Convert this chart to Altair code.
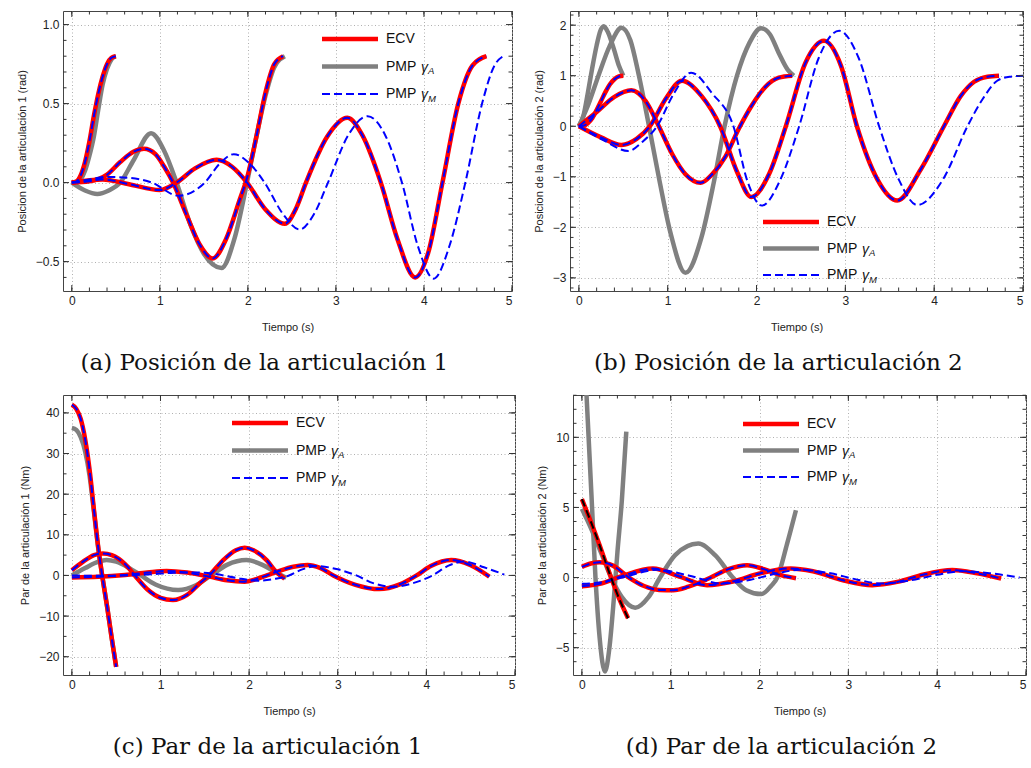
import altair as alt
import pandas as pd

# ---------------- data ----------------
# (a) joint 1 position (rad)
a_t_s = [0, 0.05, 0.1, 0.15, 0.2, 0.25, 0.3, 0.35, 0.4, 0.45, 0.5]
a_ecv_s = [0, 0.006, 0.045, 0.13, 0.26, 0.42, 0.56, 0.67, 0.75, 0.79, 0.80]
a_pa_s = [0, 0.002, 0.02, 0.075, 0.17, 0.29, 0.46, 0.62, 0.72, 0.78, 0.80]
a_t_m = [0, 0.2, 0.4, 0.55, 0.7, 0.82, 0.95, 1.05, 1.15, 1.3, 1.45, 1.6, 1.75, 1.9, 2.0, 2.1, 2.2, 2.3, 2.4]
a_ecv_m = [0, 0.008, 0.05, 0.13, 0.195, 0.214, 0.18, 0.1, 0.0, -0.2, -0.39, -0.48, -0.36, -0.12, 0.05, 0.3, 0.57, 0.75, 0.80]
a_t_pam = [0, 0.15, 0.29, 0.42, 0.55, 0.7, 0.9, 1.05, 1.19, 1.35, 1.5, 1.7, 1.85, 1.99, 2.1, 2.2, 2.3, 2.42]
a_pa_m = [0, -0.05, -0.072, -0.05, 0.0, 0.14, 0.313, 0.2, 0.0, -0.27, -0.45, -0.54, -0.35, 0.0, 0.3, 0.55, 0.73, 0.8]
a_t_l = [0, 0.35, 0.65, 1.0, 1.19, 1.4, 1.645, 1.82, 1.99, 2.2, 2.42, 2.55, 2.66, 2.9, 3.13, 3.3, 3.51, 3.7, 3.9, 4.05, 4.21, 4.39, 4.55, 4.71]
a_ecv_l = [0, 0.02, -0.01, -0.047, 0.0, 0.09, 0.144, 0.1, 0.0, -0.17, -0.26, -0.16, 0.0, 0.29, 0.41, 0.3, 0.0, -0.36, -0.60, -0.44, 0.0, 0.5, 0.74, 0.8]
a_t_pml = [0, 0.2, 0.4, 0.65, 0.91, 1.21, 1.51, 1.68, 1.84, 2.02, 2.19, 2.4, 2.59, 2.75, 2.91, 3.14, 3.36, 3.56, 3.75, 3.93, 4.11, 4.29, 4.47, 4.66, 4.8, 4.9]
a_pm_l = [0, 0.02, 0.036, 0.03, 0.0, -0.083, 0.0, 0.12, 0.18, 0.12, 0.0, -0.2, -0.297, -0.2, 0.0, 0.3, 0.42, 0.3, 0.0, -0.4, -0.608, -0.4, 0.0, 0.5, 0.74, 0.8]

# (b) joint 2 position (rad)
b_t_s = [0, 0.05, 0.1, 0.15, 0.2, 0.25, 0.3, 0.35, 0.4, 0.45, 0.5]
b_ecv_s = [0, 0.01, 0.06, 0.16, 0.32, 0.5, 0.68, 0.83, 0.93, 0.985, 1.0]
b_t_pas = [0, 0.05, 0.1, 0.15, 0.2, 0.24, 0.28, 0.33, 0.39, 0.45, 0.5]
b_pa_s = [0, 0.2, 0.65, 1.15, 1.6, 1.88, 1.98, 1.85, 1.55, 1.2, 1.0]
b_t_pam = [0, 0.1, 0.22, 0.35, 0.48, 0.58, 0.67, 0.79, 0.91, 1.03, 1.2, 1.38, 1.52, 1.64, 1.78, 1.92, 2.05, 2.15, 2.25, 2.35, 2.42]
b_pa_m = [0, 0.4, 1.0, 1.6, 1.95, 1.7, 1.05, 0.0, -1.1, -2.1, -2.9, -2.2, -1.1, 0.0, 1.0, 1.65, 1.94, 1.82, 1.45, 1.12, 1.0]
b_t_m = [0, 0.2, 0.4, 0.59, 0.75, 0.9, 1.05, 1.2, 1.37, 1.5, 1.65, 1.8, 1.95, 2.1, 2.25, 2.4]
b_ecv_m = [0, 0.28, 0.58, 0.71, 0.5, 0.0, -0.55, -0.95, -1.12, -0.95, -0.6, -0.05, 0.42, 0.78, 0.96, 1.0]
b_t_l = [0, 0.25, 0.48, 0.65, 0.8, 0.98, 1.16, 1.38, 1.59, 1.78, 1.94, 2.14, 2.33, 2.55, 2.76, 2.95, 3.13, 3.36, 3.585, 3.85, 4.11, 4.3, 4.45, 4.6, 4.73]
b_ecv_l = [0, -0.22, -0.37, -0.25, 0.0, 0.55, 0.9, 0.6, 0.0, -0.9, -1.4, -0.95, 0.0, 1.25, 1.69, 1.2, 0.0, -1.05, -1.47, -0.85, 0.0, 0.6, 0.88, 0.98, 1.0]
b_t_pml = [0, 0.28, 0.556, 0.72, 0.88, 1.07, 1.264, 1.5, 1.74, 1.9, 2.06, 2.27, 2.48, 2.7, 2.93, 3.15, 3.38, 3.6, 3.81, 4.1, 4.375, 4.55, 4.71, 4.85, 5.0]
b_pm_l = [0, -0.28, -0.49, -0.3, 0.0, 0.65, 1.06, 0.65, 0.0, -1.1, -1.57, -1.05, 0.0, 1.35, 1.89, 1.35, 0.0, -1.05, -1.56, -1.05, 0.0, 0.55, 0.9, 0.98, 1.0]

# (c) joint 1 torque (Nm)
c_t_s = [0, 0.05, 0.1, 0.15, 0.2, 0.25, 0.3, 0.342, 0.4, 0.45, 0.5]
c_ecv_s = [42, 41, 38.5, 33.5, 26, 16, 6.5, 0, -8, -15.5, -22.5]
c_pa_s = [36.3, 35.8, 34, 30.5, 24.5, 15.5, 6.3, 0, -8, -15.5, -22.5]
c_t_m = [0, 0.12, 0.25, 0.35, 0.45, 0.6, 0.71, 0.85, 1.0, 1.14, 1.3, 1.45, 1.55, 1.7, 1.85, 1.95, 2.05, 2.2, 2.3, 2.4]
c_ecv_m = [1.3, 3.3, 5.0, 5.4, 5.0, 2.8, 0.0, -3.4, -5.5, -6.06, -4.8, -1.8, 0.0, 3.6, 6.2, 6.8, 6.2, 3.7, 1.0, -0.8]
c_t_pam = [0, 0.15, 0.3, 0.39, 0.5, 0.65, 0.78, 0.95, 1.2, 1.4, 1.57, 1.75, 1.97, 2.15, 2.3, 2.42]
c_pa_m = [0, 1.8, 3.4, 3.8, 3.4, 1.8, 0.0, -2.3, -3.6, -2.4, 0.0, 2.6, 3.8, 2.6, 0.8, -0.6]
c_t_l = [0, 0.3, 0.6, 0.85, 1.07, 1.3, 1.55, 1.75, 1.95, 2.08, 2.2, 2.35, 2.5, 2.66, 2.8, 2.95, 3.2, 3.47, 3.7, 3.89, 4.05, 4.28, 4.5, 4.71]
c_ecv_l = [-0.5, -0.35, 0.1, 0.7, 1.1, 0.7, -0.3, -1.2, -1.55, -0.9, 0.0, 1.2, 2.15, 2.55, 1.85, 0.0, -2.3, -3.36, -2.2, 0.0, 2.3, 3.8, 2.5, -0.3]
c_t_pml = [0, 0.3, 0.6, 0.9, 1.15, 1.35, 1.6, 1.85, 2.1, 2.3, 2.45, 2.6, 2.76, 3.0, 3.21, 3.4, 3.62, 3.85, 4.07, 4.25, 4.43, 4.65, 4.88]
c_pm_l = [0, -0.1, 0.0, 0.3, 0.65, 0.75, 0.4, -0.6, -1.3, -0.8, 0.0, 1.5, 2.3, 1.5, 0.0, -1.9, -2.8, -1.9, 0.0, 2.4, 3.4, 2.0, 0.2]

# (d) joint 2 torque (Nm)
d_t_s = [0, 0.1, 0.2, 0.3, 0.4, 0.52]
d_ecv_s = [5.6, 4.0, 2.3, 0.5, -1.2, -2.9]
d_t_pas = [0, 0.05, 0.11, 0.153, 0.2, 0.26, 0.31, 0.36, 0.4, 0.45, 0.5]
d_pa_s = [19.5, 13.3, 5.6, 0, -4.3, -6.7, -5.0, -1.5, 1.8, 5.5, 10.4]
d_t_pam = [0, 0.11, 0.22, 0.33, 0.45, 0.6, 0.75, 0.88, 1.05, 1.31, 1.5, 1.7, 1.85, 2.02, 2.13, 2.2, 2.31, 2.41]
d_pa_m = [4.9, 3.4, 1.7, 0.0, -1.4, -2.16, -1.4, 0.0, 1.6, 2.42, 1.6, 0.0, -0.9, -1.18, -0.6, 0.0, 2.4, 4.8]
d_t_m = [0, 0.1, 0.2, 0.35, 0.53, 0.7, 0.87, 1.03, 1.2, 1.45, 1.65, 1.86, 2.05, 2.25, 2.41]
d_ecv_m = [0.76, 1.0, 1.1, 0.85, 0.0, -0.6, -0.88, -0.9, -0.65, 0.0, 0.6, 0.88, 0.6, 0.15, -0.05]
d_t_l = [0, 0.2, 0.45, 0.8, 1.1, 1.41, 1.7, 2.0, 2.35, 2.6, 2.95, 3.27, 3.55, 3.85, 4.17, 4.45, 4.72]
d_ecv_l = [-0.62, -0.45, 0.1, 0.64, 0.07, -0.54, -0.28, 0.29, 0.65, 0.45, -0.21, -0.54, -0.31, 0.22, 0.53, 0.3, -0.07]
d_t_pml = [0, 0.2, 0.45, 0.85, 1.2, 1.58, 1.9, 2.2, 2.45, 2.8, 3.1, 3.38, 3.7, 4.0, 4.28, 4.6, 4.93]
d_pm_l = [-0.45, -0.35, 0.0, 0.55, 0.15, -0.43, -0.15, 0.3, 0.55, 0.3, -0.15, -0.43, -0.2, 0.2, 0.45, 0.3, 0.0]

# axis ticks / labels
x_major = [0, 1, 2, 3, 4, 5]
x_minor = [round(0.2 * k, 1) for k in range(26)]
a_y_major = [-0.5, 0.0, 0.5, 1.0]
a_y_minor = [round(-0.6 + 0.1 * k, 1) for k in range(17)]
b_y_major = [-3, -2, -1, 0, 1, 2]
b_y_minor = [round(-3.2 + 0.2 * k, 1) for k in range(28)]
c_y_major = [-20, -10, 0, 10, 20, 30, 40]
c_y_minor = [-20 + 5 * k for k in range(13)]
d_y_major = [-5, 0, 5, 10]
d_y_minor = [-6 + k for k in range(20)]

SANS = "Liberation Sans"
SERIF = "DejaVu Serif"
H = 280
RED, GRAY, BLUE = "#ff0000", "#808080", "#0000ff"
DASH = [8, 4]
LFS = 14


def curves_df(curves):
    rows = []
    for cid, (ts, vs) in enumerate(curves):
        for i, (t, v) in enumerate(zip(ts, vs)):
            rows.append({"c": cid, "t": t, "v": v, "i": i})
    return pd.DataFrame(rows)


def panel(W, gray, red, blue, black, ydom, ymajor, yminor, yfmt, ytitle, caption, leg):
    xs = alt.Scale(domain=[-0.1, 5.0], nice=False, zero=False)
    ys = alt.Scale(domain=ydom, nice=False, zero=False)
    xax = alt.Axis(values=x_major, format="d", title="Tiempo (s)", titlePadding=15)
    yax = alt.Axis(values=ymajor, format=yfmt, title=ytitle, titlePadding=8)

    def line(curves, **kw):
        return alt.Chart(curves_df(curves)).mark_line(
            interpolate="monotone", clip=True, strokeCap="butt", **kw
        ).encode(
            x=alt.X("t:Q", scale=xs, axis=xax),
            y=alt.Y("v:Q", scale=ys, axis=yax),
            detail="c:N",
            order="i:Q",
        )

    layers = [
        line(gray, color=GRAY, strokeWidth=4.5),
        line(red, color=RED, strokeWidth=4.5),
        line(blue, color=BLUE, strokeWidth=2, strokeDash=DASH),
    ]
    if black:
        layers.append(line(black, color="#000000", strokeWidth=2, strokeDash=DASH))

    # inward frame ticks
    for vals, size in ((x_minor, 3.5), (x_major, 6)):
        d = pd.DataFrame({"t": vals})
        for y0, y1 in ((H, H - size), (0, size)):
            layers.append(alt.Chart(d).mark_rule(color="#333", strokeWidth=1).encode(
                x=alt.X("t:Q", scale=xs, axis=xax), y=alt.value(y0), y2=alt.value(y1)))
    for vals, size in ((yminor, 3.5), (ymajor, 6)):
        d = pd.DataFrame({"v": vals})
        for x0, x1 in ((0, size), (W, W - size)):
            layers.append(alt.Chart(d).mark_rule(color="#333", strokeWidth=1).encode(
                y=alt.Y("v:Q", scale=ys, axis=yax), x=alt.value(x0), x2=alt.value(x1)))

    # legend
    lx, ly, dy = leg
    one = pd.DataFrame({"k": [0]})
    styles = [dict(color=RED, strokeWidth=4.5), dict(color=GRAY, strokeWidth=4.5),
              dict(color=BLUE, strokeWidth=2, strokeDash=DASH)]
    for r, st in enumerate(styles):
        layers.append(alt.Chart(one).mark_rule(strokeCap="butt", **st).encode(
            x=alt.value(lx), x2=alt.value(lx + 56), y=alt.value(ly + r * dy)))
    tx = lx + 64
    txt = dict(align="left", baseline="middle", font=SANS, fontSize=LFS, color="#111")
    layers.append(alt.Chart(one).mark_text(text="ECV", **txt).encode(
        x=alt.value(tx), y=alt.value(ly)))
    for r, sub in ((1, "A"), (2, "M")):
        yy = ly + r * dy
        layers.append(alt.Chart(one).mark_text(text="PMP", **txt).encode(
            x=alt.value(tx), y=alt.value(yy)))
        layers.append(alt.Chart(one).mark_text(text="γ", fontStyle="italic", **txt).encode(
            x=alt.value(tx + 35), y=alt.value(yy + 1)))
        layers.append(alt.Chart(one).mark_text(
            text=sub, align="left", baseline="middle", font=SANS, fontSize=9.5,
            fontStyle="italic", color="#111").encode(
            x=alt.value(tx + 42), y=alt.value(yy + 4.5)))

    return alt.layer(*layers).properties(
        width=W, height=H,
        title=alt.TitleParams(caption, orient="bottom", anchor="middle", frame="bounds",
                              font=SERIF, fontSize=23, fontWeight="normal", color="#111",
                              offset=20),
    )


pa = panel(
    449,
    gray=[(a_t_s, a_pa_s), (a_t_pam, a_pa_m)],
    red=[(a_t_s, a_ecv_s), (a_t_m, a_ecv_m), (a_t_l, a_ecv_l)],
    blue=[(a_t_s, a_ecv_s), (a_t_m, a_ecv_m), (a_t_l, a_ecv_l), (a_t_pml, a_pm_l)],
    black=None, ydom=[-0.686, 1.086], ymajor=a_y_major, yminor=a_y_minor, yfmt=".1f",
    ytitle="Posicion de la articulación 1 (rad)",
    caption="(a) Posición de la articulación 1", leg=(259, 28, 27.5))

pb = panel(
    453,
    gray=[(b_t_pas, b_pa_s), (b_t_pam, b_pa_m)],
    red=[(b_t_s, b_ecv_s), (b_t_m, b_ecv_m), (b_t_l, b_ecv_l)],
    blue=[(b_t_s, b_ecv_s), (b_t_m, b_ecv_m), (b_t_l, b_ecv_l), (b_t_pml, b_pm_l)],
    black=None, ydom=[-3.26, 2.28], ymajor=b_y_major, yminor=b_y_minor, yfmt="d",
    ytitle="Posicion de la articulación 2 (rad)",
    caption="(b) Posición de la articulación 2", leg=(193, 211, 26.5))

pc = panel(
    452,
    gray=[(c_t_s, c_pa_s), (c_t_pam, c_pa_m)],
    red=[(c_t_s, c_ecv_s), (c_t_m, c_ecv_m), (c_t_l, c_ecv_l)],
    blue=[(c_t_s, c_ecv_s), (c_t_m, c_ecv_m), (c_t_l, c_ecv_l), (c_t_pml, c_pm_l)],
    black=None, ydom=[-24.5, 44.4], ymajor=c_y_major, yminor=c_y_minor, yfmt="d",
    ytitle="Par de la articulación 1 (Nm)",
    caption="(c) Par de la articulación 1", leg=(169, 28, 27.5))

pd_ = panel(
    453,
    gray=[(d_t_pas, d_pa_s), (d_t_pam, d_pa_m)],
    red=[(d_t_s, d_ecv_s), (d_t_m, d_ecv_m), (d_t_l, d_ecv_l)],
    blue=[(d_t_m, d_ecv_m), (d_t_l, d_ecv_l), (d_t_pml, d_pm_l)],
    black=[(d_t_s, d_ecv_s)], ydom=[-6.95, 13.02], ymajor=d_y_major, yminor=d_y_minor, yfmt="d",
    ytitle="Par de la articulación 2 (Nm)",
    caption="(d) Par de la articulación 2", leg=(170, 29, 26.5))

top = alt.hconcat(pa, pb, spacing=19)
bottom = alt.hconcat(pc, pd_, spacing=19)
chart = alt.vconcat(top, bottom, spacing=18).configure(
    padding={"left": 15, "top": 10, "right": 2, "bottom": 2}, background="white"
).configure_view(stroke="#444", strokeWidth=1).configure_axis(
    labelFont=SANS, labelFontSize=12, labelColor="#222", labelPadding=4,
    titleFont=SANS, titleFontSize=11, titleFontWeight="normal", titleColor="#222",
    grid=True, gridColor="#b0b0b0", gridDash=[1, 2.5], gridWidth=1,
    ticks=False, domain=False,
)

chart.save("out.html", embed_options={"renderer": "svg", "actions": False})
